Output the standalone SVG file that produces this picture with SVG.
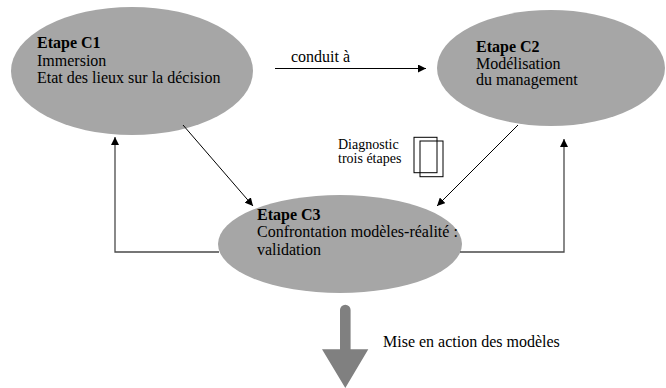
<svg xmlns="http://www.w3.org/2000/svg" width="666" height="388" viewBox="0 0 666 388">
<defs>
<style>
.node ellipse{fill:#a6a6a6;stroke:none}
text{font-family:'Liberation Serif','Times New Roman','DejaVu Serif',serif;font-size:16px;fill:#000}
.b{font-weight:bold}
.s{font-size:14px}
.c line,.c polyline{stroke:#000;stroke-width:1;fill:none}
.c polyline.fb{stroke:#4a4a4a;stroke-width:1.3}
</style>
<marker id="ah" viewBox="0 0 10 10" refX="10" refY="5" markerWidth="8" markerHeight="8" markerUnits="userSpaceOnUse" orient="auto">
<path d="M0,0 L10,5 L0,10 Z" fill="#000"/>
</marker>
</defs>
<rect width="666" height="388" fill="#fff"/>
<g id="c1" class="node">
<ellipse cx="132" cy="71" rx="121" ry="64"/>
<text x="37" y="48"><tspan class="b">Etape C1</tspan><tspan x="37" y="65.7">Immersion</tspan><tspan x="37" y="83.3">Etat des lieux sur la décision</tspan></text>
</g>
<g id="c2" class="node">
<ellipse cx="551" cy="68" rx="114" ry="58"/>
<text x="476" y="51.7"><tspan class="b">Etape C2</tspan><tspan x="476" y="68.5">Modélisation</tspan><tspan x="476" y="85.3">du management</tspan></text>
</g>
<g id="c3" class="node">
<ellipse cx="340" cy="244" rx="122" ry="49"/>
<text x="257" y="220"><tspan class="b">Etape C3</tspan><tspan x="257" y="237.3">Confrontation modèles-réalité :</tspan><tspan x="257" y="255">validation</tspan></text>
</g>
<g id="diag">
<rect x="414" y="137.3" width="23" height="35.4" fill="none" stroke="#000" stroke-width="1"/>
<rect x="420" y="141" width="23" height="35.7" fill="none" stroke="#000" stroke-width="1"/>
<text class="s" x="338" y="148.5">Diagnostic</text>
<text class="s" x="338" y="163">trois étapes</text>
</g>
<g id="connectors" class="c">
<line x1="275" y1="68.5" x2="426" y2="68.5" marker-end="url(#ah)"/>
<line x1="183" y1="125" x2="253" y2="206" marker-end="url(#ah)"/>
<line x1="518" y1="125" x2="437" y2="206" marker-end="url(#ah)"/>
<polyline class="fb" points="219,252 115,252 115,137" marker-end="url(#ah)"/>
<polyline class="fb" points="460,252 564,252 564,139" marker-end="url(#ah)"/>
</g>
<text x="291" y="62">conduit à</text>
<g id="bigarrow">
<path d="M340,310 A5.3,5.3 0 0 1 350.6,310 L350.6,349.3 L368.3,349.3 L345.3,388 L322,349.3 L340,349.3 Z" fill="#808080"/>
<text x="383" y="347">Mise en action des modèles</text>
</g>
</svg>
